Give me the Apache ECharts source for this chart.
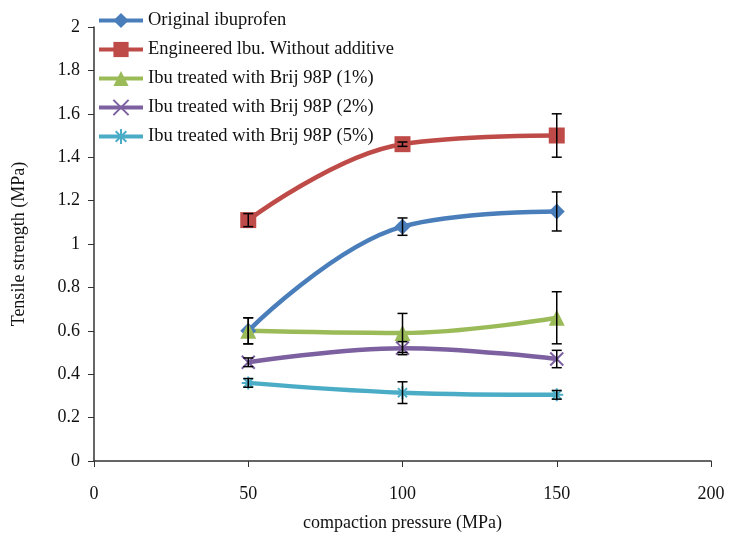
<!DOCTYPE html>
<html><head><meta charset="utf-8">
<script src="https://cdn.jsdelivr.net/npm/echarts@6/dist/echarts.min.js"></script>
<style>html,body{margin:0;padding:0;background:#fff}#c{width:736px;height:533px}</style>
</head><body><div id="c"></div>
<script>
var pressures = [50, 100, 150];
var seriesNames = ['Original ibuprofen','Engineered lbu. Without additive','Ibu treated with Brij 98P (1%)','Ibu treated with Brij 98P (2%)','Ibu treated with Brij 98P (5%)'];
var original = [0.60, 1.08, 1.15];
var originalErr = [0.06, 0.04, 0.09];
var engineered = [1.11, 1.46, 1.50];
var engineeredErr = [0.03, 0.01, 0.10];
var brij1 = [0.60, 0.59, 0.66];
var brij1Err = [0.06, 0.09, 0.12];
var brij2 = [0.455, 0.52, 0.47];
var brij2Err = [0.02, 0.03, 0.04];
var brij5 = [0.36, 0.315, 0.305];
var brij5Err = [0.02, 0.05, 0.02];
var yTicks = [0, 0.2, 0.4, 0.6, 0.8, 1, 1.2, 1.4, 1.6, 1.8, 2];

var colors = ['#4a7ebb', '#be4b48', '#9bbb59', '#7d60a0', '#4bacc6'];
var symbols = ['diamond', 'rect', 'triangle',
  'path://M0,0L10,10M10,0L0,10',
  'path://M5,0L5,10M0,5L10,5M1.5,1.5L8.5,8.5M8.5,1.5L1.5,8.5'];
var symSizes = [16, 16, 16, 13, 13];
var allVals = [original, engineered, brij1, brij2, brij5];
var allErrs = [originalErr, engineeredErr, brij1Err, brij2Err, brij5Err];

var font = 'Liberation Serif';
var series = [];
allVals.forEach(function (vals, i) {
  var strokeOnly = i >= 3;
  series.push({
    name: seriesNames[i], type: 'line', smooth: 0.4,
    data: pressures.map(function (p, k) { return [p, vals[k]]; }),
    symbol: symbols[i], symbolSize: symSizes[i],
    lineStyle: { width: 4.5, color: colors[i] },
    itemStyle: strokeOnly ? { color: colors[i], borderColor: colors[i], borderWidth: 2 } : { color: colors[i] },
    z: 2
  });
});
var errData = [];
allVals.forEach(function (vals, i) {
  pressures.forEach(function (p, k) {
    errData.push([p, vals[k] - allErrs[i][k], vals[k] + allErrs[i][k]]);
  });
});
series.push({
  type: 'custom', z: 5, silent: true,
  data: errData,
  renderItem: function (params, api) {
    var x = api.value(0);
    var lo = api.coord([x, api.value(1)]);
    var hi = api.coord([x, api.value(2)]);
    var w = 5;
    var st = { stroke: '#000', lineWidth: 1.5 };
    return { type: 'group', children: [
      { type: 'line', shape: { x1: lo[0], y1: lo[1], x2: hi[0], y2: hi[1] }, style: st },
      { type: 'line', shape: { x1: lo[0]-w, y1: lo[1], x2: lo[0]+w, y2: lo[1] }, style: st },
      { type: 'line', shape: { x1: hi[0]-w, y1: hi[1], x2: hi[0]+w, y2: hi[1] }, style: st }
    ]};
  },
  encode: { x: 0, y: [1, 2] }
});

var chart = echarts.init(document.getElementById('c'), null, { renderer: 'canvas' });
chart.setOption({
  animation: false,
  backgroundColor: '#fff',
  textStyle: { fontFamily: font },
  grid: { left: 94, right: 25, top: 27, bottom: 72, containLabel: false, outerBoundsMode: 'none' },
  legend: {
    orient: 'vertical', left: 92, top: 6, itemGap: 10, itemWidth: 44, itemHeight: 19,
    lineStyle: { width: 4 },
    textStyle: { fontFamily: font, fontSize: 18.5, color: '#111' },
    data: seriesNames
  },
  xAxis: {
    type: 'value', min: 0, max: 200, interval: 50,
    name: 'compaction pressure (MPa)', nameLocation: 'middle', nameGap: 53,
    nameTextStyle: { fontFamily: font, fontSize: 18, color: '#111' },
    axisLine: { lineStyle: { color: '#333', width: 1.5 } },
    axisTick: { show: true, inside: false, length: 6, lineStyle: { color: '#333' } },
    axisLabel: { fontFamily: font, fontSize: 18, color: '#111', margin: 24 },
    splitLine: { show: false }
  },
  yAxis: {
    type: 'value', min: 0, max: 2, interval: 0.2,
    name: 'Tensile strength (MPa)', nameLocation: 'middle', nameGap: 66,
    nameTextStyle: { fontFamily: font, fontSize: 18, color: '#111' },
    axisLine: { show: true, lineStyle: { color: '#333', width: 1.5 } },
    axisTick: { show: true, inside: false, length: 6, lineStyle: { color: '#333' } },
    axisLabel: { fontFamily: font, fontSize: 18, color: '#111', margin: 14,
      formatter: function (v) { var t = yTicks.filter(function (y) { return Math.abs(y - v) < 1e-9; }); return t.length ? String(t[0]) : ''; } },
    splitLine: { show: false }
  },
  series: series
});
</script></body></html>
